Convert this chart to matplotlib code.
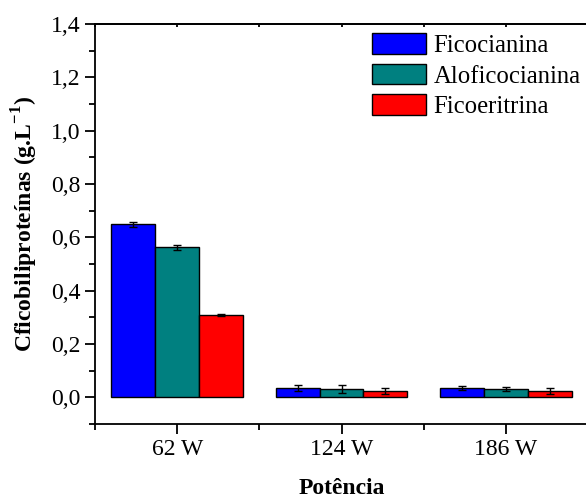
import matplotlib.pyplot as plt
import numpy as np
from matplotlib.ticker import MultipleLocator, FuncFormatter

# concentrações de ficobiliproteínas por potência
potencias = ['62 W', '124 W', '186 W']
series = ['Ficocianina', 'Aloficocianina', 'Ficoeritrina']
ficocianina = [0.649, 0.034, 0.034]
aloficocianina = [0.563, 0.030, 0.031]
ficoeritrina = [0.308, 0.024, 0.024]
err_ficocianina = [0.009, 0.012, 0.007]
err_aloficocianina = [0.010, 0.015, 0.009]
err_ficoeritrina = [0.004, 0.012, 0.011]

valores = [ficocianina, aloficocianina, ficoeritrina]
erros = [err_ficocianina, err_aloficocianina, err_ficoeritrina]
cores = ['#0000ff', '#008080', '#ff0000']

plt.rcParams['font.family'] = ['Liberation Serif', 'DejaVu Serif']
plt.rcParams['mathtext.fontset'] = 'custom'
plt.rcParams['mathtext.rm'] = 'Liberation Serif'
plt.rcParams['mathtext.bf'] = 'Liberation Serif:bold'

fig = plt.figure(figsize=(5.86, 5.0), dpi=100)
ax = fig.add_axes([95 / 586, 76 / 500, 493 / 586, 400 / 500])

x = np.arange(len(potencias))
w = 0.8 / 3
for i in range(3):
    ax.bar(x + (i - 1) * w, valores[i], w, color=cores[i], edgecolor='black',
           linewidth=1.0, label=series[i], zorder=2)
    ax.errorbar(x + (i - 1) * w, valores[i], yerr=erros[i], fmt='none',
                ecolor='black', elinewidth=1.0, capsize=3, capthick=1.0, zorder=3)

ax.set_xlim(-0.5, 2.5)
ax.set_ylim(-0.1, 1.4)
ax.set_xticks(x)
ax.set_xticklabels(potencias)
ax.xaxis.set_minor_locator(MultipleLocator(0.5))
ax.yaxis.set_major_locator(MultipleLocator(0.2))
ax.yaxis.set_minor_locator(MultipleLocator(0.1))
ax.yaxis.set_major_formatter(FuncFormatter(lambda v, p: f'{v:.1f}'.replace('.', ',')))

for s in ax.spines.values():
    s.set_linewidth(1.3)
ax.tick_params(which='both', direction='out', width=1.3, labelsize=17)
ax.tick_params(which='major', length=7)
ax.tick_params(which='minor', length=4)

# marcas pequenas no eixo superior
sec = ax.secondary_xaxis('top')
sec.set_xticks(x)
sec.set_xticklabels([])
sec.xaxis.set_minor_locator(MultipleLocator(0.5))
sec.tick_params(which='both', direction='in', length=2, width=1.3)
sec.spines['top'].set_linewidth(1.3)

ax.set_ylabel('Cficobiliproteínas (g.L$^{\\mathbf{-1}}$)', fontsize=17,
              fontweight='bold', labelpad=8)
ax.set_xlabel('Potência', fontsize=17, fontweight='bold', labelpad=13)

ax.legend(loc='upper left', bbox_to_anchor=(0.526, 1.02), frameon=False,
          fontsize=17.8, handlelength=2.2, handleheight=0.9, labelspacing=0.27,
          handletextpad=0.3, borderaxespad=0.3)

fig.savefig('out.png', dpi=100)
